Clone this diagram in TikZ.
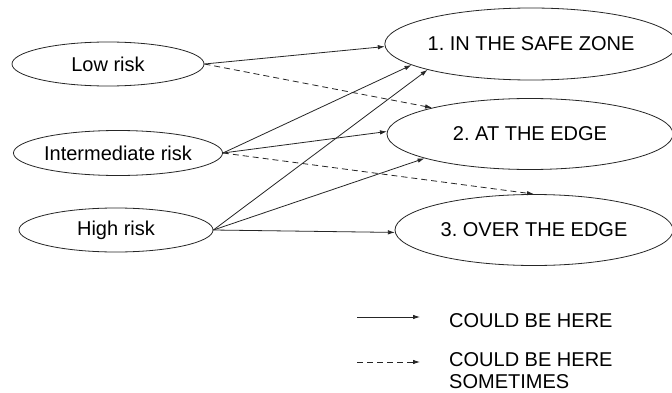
\documentclass[tikz,border=0pt]{standalone}
\usepackage{fontspec}
\setmainfont{Liberation Sans}
\usetikzlibrary{shapes.geometric,arrows.meta}
\frenchspacing

\tikzset{
  risk/.style={draw=black!85, line width=0.8pt, ellipse, inner sep=0pt,
    font=\fontsize{20}{24}\selectfont},
  link/.style={draw=black!85, line width=0.8pt, -{Latex[length=7pt,width=4.5pt]}},
  maybe/.style={link, dash pattern=on 6pt off 4pt},
  legendtext/.style={inner sep=0pt, align=left, font=\fontsize{20}{22.5}\selectfont}
}

\begin{document}
\begin{tikzpicture}[x=1pt,y=1pt]
  \useasboundingbox (0,0) rectangle (672,392);
  \clip (0,0) rectangle (672,392);
  \fill[white] (0,0) rectangle (672,392);

  % risk groups on the left
  \node[risk, minimum width=192pt, minimum height=44pt] (low)  at (108,328) {Low risk};
  \node[risk, minimum width=198pt, minimum height=45pt] (mid)  at (118,239) {Intermediate risk};
  \node[risk, minimum width=194pt, minimum height=44pt] (high) at (116,162) {High risk};

  % outcome zones on the right
  \node[risk, minimum width=284pt, minimum height=72pt] (safe) at (531,348) {1. IN THE SAFE ZONE};
  \node[risk, minimum width=286pt, minimum height=71pt] (edge) at (530,258) {2. AT THE EDGE};
  \node[risk, minimum width=278pt, minimum height=71pt] (over) at (534,162) {3. OVER THE EDGE};

  % possible transitions
  \draw[link]  (low.east)  -- (safe.181);
  \draw[maybe] (low.east)  -- (edge.165);
  \draw[link]  (mid.east)  -- (safe.190);
  \draw[link]  (mid.east)  -- (edge.179);
  \draw[maybe] (mid.east)  -- (over.north);
  \draw[link]  (high.east) -- (safe.194);
  \draw[link]  (high.east) -- (edge.193);
  \draw[link]  (high.east) -- (over.181);

  % legend
  \coordinate (solidA) at (357,75);
  \coordinate (solidB) at (420,75);
  \coordinate (dashA)  at (357,30);
  \coordinate (dashB)  at (420,30);
  \draw[link]  (solidA) -- (solidB);
  \draw[maybe] (dashA)  -- (dashB);
  \node[legendtext, anchor=west] (legsolid) at (449,71) {COULD BE HERE};
  \node[legendtext, anchor=north west] (legdash) at (449,40) {COULD BE HERE\\SOMETIMES};
\end{tikzpicture}
\end{document}
